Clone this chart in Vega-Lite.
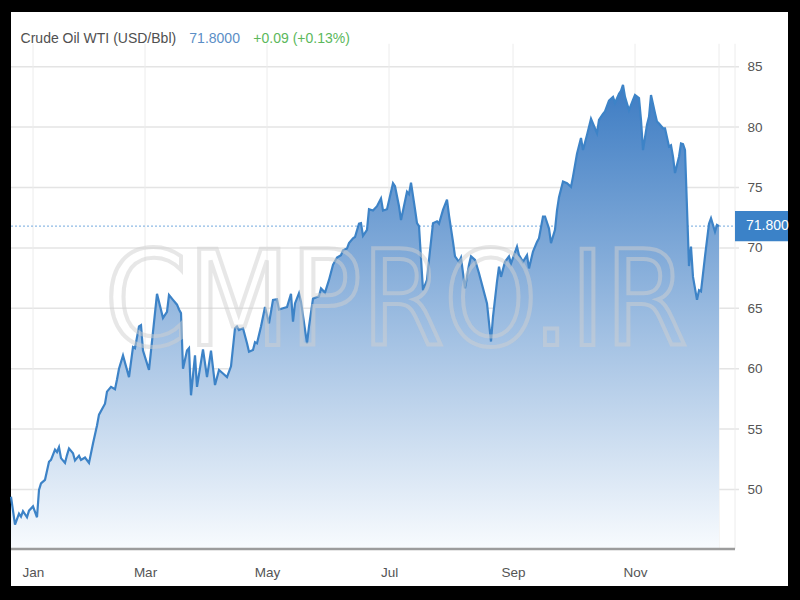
{
  "$schema": "https://vega.github.io/schema/vega-lite/v6.json",
  "width": 777,
  "height": 574,
  "autosize": {"type": "none"},
  "padding": {"left": 11, "top": 12, "right": 12, "bottom": 14},
  "background": "#000000",
  "config": {"view": {"fill": "#ffffff", "stroke": null}, "font": "Liberation Sans"},
  "datasets": {
    "prices": [
      {"date": "2020-12-24", "price": 49.4}, {"date": "2020-12-26", "price": 47.1}, {"date": "2020-12-28", "price": 48.0},
      {"date": "2020-12-29", "price": 47.75}, {"date": "2020-12-30", "price": 48.2}, {"date": "2021-01-01", "price": 47.7},
      {"date": "2021-01-02", "price": 48.25}, {"date": "2021-01-04", "price": 48.6}, {"date": "2021-01-06", "price": 47.7},
      {"date": "2021-01-07", "price": 49.96}, {"date": "2021-01-08", "price": 50.5}, {"date": "2021-01-10", "price": 50.8},
      {"date": "2021-01-12", "price": 52.3}, {"date": "2021-01-13", "price": 52.45}, {"date": "2021-01-15", "price": 53.3},
      {"date": "2021-01-16", "price": 53.1}, {"date": "2021-01-17", "price": 53.5}, {"date": "2021-01-18", "price": 52.6},
      {"date": "2021-01-20", "price": 52.2}, {"date": "2021-01-21", "price": 52.85}, {"date": "2021-01-22", "price": 53.4},
      {"date": "2021-01-24", "price": 53.0}, {"date": "2021-01-25", "price": 52.4}, {"date": "2021-01-27", "price": 52.8},
      {"date": "2021-01-28", "price": 52.45}, {"date": "2021-01-30", "price": 52.65}, {"date": "2021-02-01", "price": 52.2},
      {"date": "2021-02-03", "price": 53.8}, {"date": "2021-02-05", "price": 55.3}, {"date": "2021-02-06", "price": 56.2},
      {"date": "2021-02-09", "price": 57.1}, {"date": "2021-02-10", "price": 58.1}, {"date": "2021-02-12", "price": 58.5},
      {"date": "2021-02-14", "price": 58.3}, {"date": "2021-02-15", "price": 59.1}, {"date": "2021-02-16", "price": 60.0},
      {"date": "2021-02-18", "price": 61.1}, {"date": "2021-02-21", "price": 59.3}, {"date": "2021-02-23", "price": 61.8},
      {"date": "2021-02-24", "price": 61.7}, {"date": "2021-02-26", "price": 63.5}, {"date": "2021-02-27", "price": 63.6},
      {"date": "2021-02-28", "price": 61.5}, {"date": "2021-03-03", "price": 59.9}, {"date": "2021-03-07", "price": 66.2},
      {"date": "2021-03-10", "price": 64.2}, {"date": "2021-03-12", "price": 64.7}, {"date": "2021-03-13", "price": 66.1},
      {"date": "2021-03-15", "price": 65.7}, {"date": "2021-03-17", "price": 65.3}, {"date": "2021-03-18", "price": 64.9},
      {"date": "2021-03-19", "price": 64.6}, {"date": "2021-03-20", "price": 60.0}, {"date": "2021-03-22", "price": 61.5},
      {"date": "2021-03-23", "price": 61.7}, {"date": "2021-03-24", "price": 57.8}, {"date": "2021-03-26", "price": 61.1},
      {"date": "2021-03-27", "price": 58.5}, {"date": "2021-03-30", "price": 61.6}, {"date": "2021-04-01", "price": 59.3},
      {"date": "2021-04-03", "price": 61.5}, {"date": "2021-04-05", "price": 58.65}, {"date": "2021-04-07", "price": 59.9},
      {"date": "2021-04-09", "price": 59.6}, {"date": "2021-04-11", "price": 59.3}, {"date": "2021-04-13", "price": 60.2},
      {"date": "2021-04-15", "price": 63.35}, {"date": "2021-04-16", "price": 63.5}, {"date": "2021-04-17", "price": 63.2},
      {"date": "2021-04-19", "price": 63.35}, {"date": "2021-04-21", "price": 62.1}, {"date": "2021-04-22", "price": 61.4},
      {"date": "2021-04-24", "price": 61.55}, {"date": "2021-04-25", "price": 62.2}, {"date": "2021-04-26", "price": 62.1},
      {"date": "2021-04-28", "price": 63.5}, {"date": "2021-04-30", "price": 65.1}, {"date": "2021-05-02", "price": 63.75},
      {"date": "2021-05-04", "price": 65.7}, {"date": "2021-05-06", "price": 65.75}, {"date": "2021-05-07", "price": 64.9},
      {"date": "2021-05-09", "price": 65.0}, {"date": "2021-05-11", "price": 65.1}, {"date": "2021-05-13", "price": 66.2},
      {"date": "2021-05-14", "price": 63.9}, {"date": "2021-05-15", "price": 65.4}, {"date": "2021-05-17", "price": 66.25},
      {"date": "2021-05-18", "price": 65.55}, {"date": "2021-05-21", "price": 62.1}, {"date": "2021-05-22", "price": 63.5},
      {"date": "2021-05-24", "price": 65.8}, {"date": "2021-05-27", "price": 66.0}, {"date": "2021-05-28", "price": 66.65},
      {"date": "2021-05-30", "price": 66.3}, {"date": "2021-06-01", "price": 67.35}, {"date": "2021-06-03", "price": 68.6},
      {"date": "2021-06-05", "price": 69.2}, {"date": "2021-06-07", "price": 69.4}, {"date": "2021-06-08", "price": 69.8},
      {"date": "2021-06-10", "price": 69.95}, {"date": "2021-06-11", "price": 70.4}, {"date": "2021-06-13", "price": 70.8},
      {"date": "2021-06-14", "price": 70.9}, {"date": "2021-06-16", "price": 72.0}, {"date": "2021-06-17", "price": 72.05},
      {"date": "2021-06-18", "price": 71.0}, {"date": "2021-06-20", "price": 71.5}, {"date": "2021-06-21", "price": 73.2},
      {"date": "2021-06-23", "price": 73.1}, {"date": "2021-06-25", "price": 73.45}, {"date": "2021-06-27", "price": 74.1},
      {"date": "2021-06-28", "price": 73.1}, {"date": "2021-06-30", "price": 73.2}, {"date": "2021-07-03", "price": 75.35},
      {"date": "2021-07-04", "price": 75.1}, {"date": "2021-07-06", "price": 73.45}, {"date": "2021-07-07", "price": 72.3},
      {"date": "2021-07-10", "price": 74.65}, {"date": "2021-07-11", "price": 74.45}, {"date": "2021-07-12", "price": 75.4},
      {"date": "2021-07-14", "price": 73.2}, {"date": "2021-07-15", "price": 72.05}, {"date": "2021-07-16", "price": 71.8},
      {"date": "2021-07-18", "price": 66.5}, {"date": "2021-07-20", "price": 67.35}, {"date": "2021-07-21", "price": 69.0},
      {"date": "2021-07-23", "price": 72.05}, {"date": "2021-07-25", "price": 72.2}, {"date": "2021-07-26", "price": 72.0},
      {"date": "2021-07-28", "price": 73.15}, {"date": "2021-07-30", "price": 74.0}, {"date": "2021-07-31", "price": 72.7},
      {"date": "2021-08-02", "price": 70.5}, {"date": "2021-08-03", "price": 69.3}, {"date": "2021-08-05", "price": 68.85},
      {"date": "2021-08-06", "price": 69.2}, {"date": "2021-08-08", "price": 66.65}, {"date": "2021-08-10", "price": 68.6},
      {"date": "2021-08-11", "price": 69.3}, {"date": "2021-08-13", "price": 69.0}, {"date": "2021-08-15", "price": 67.9},
      {"date": "2021-08-17", "price": 66.65}, {"date": "2021-08-19", "price": 65.4}, {"date": "2021-08-21", "price": 62.25},
      {"date": "2021-08-22", "price": 64.3}, {"date": "2021-08-24", "price": 67.2}, {"date": "2021-08-25", "price": 68.45},
      {"date": "2021-08-26", "price": 67.6}, {"date": "2021-08-28", "price": 68.85}, {"date": "2021-08-30", "price": 69.3},
      {"date": "2021-08-31", "price": 68.7}, {"date": "2021-09-03", "price": 70.1}, {"date": "2021-09-04", "price": 69.4},
      {"date": "2021-09-06", "price": 68.85}, {"date": "2021-09-08", "price": 69.4}, {"date": "2021-09-09", "price": 68.3},
      {"date": "2021-09-11", "price": 69.7}, {"date": "2021-09-13", "price": 70.5}, {"date": "2021-09-14", "price": 70.8},
      {"date": "2021-09-16", "price": 72.6}, {"date": "2021-09-17", "price": 72.6}, {"date": "2021-09-19", "price": 71.6},
      {"date": "2021-09-20", "price": 70.4}, {"date": "2021-09-22", "price": 71.5}, {"date": "2021-09-23", "price": 73.1},
      {"date": "2021-09-24", "price": 74.2}, {"date": "2021-09-26", "price": 75.5}, {"date": "2021-09-28", "price": 75.35},
      {"date": "2021-09-30", "price": 75.05}, {"date": "2021-10-01", "price": 75.9}, {"date": "2021-10-03", "price": 77.8},
      {"date": "2021-10-05", "price": 79.1}, {"date": "2021-10-06", "price": 78.1}, {"date": "2021-10-08", "price": 79.35},
      {"date": "2021-10-10", "price": 80.7}, {"date": "2021-10-13", "price": 79.5}, {"date": "2021-10-14", "price": 80.6},
      {"date": "2021-10-16", "price": 81.1}, {"date": "2021-10-17", "price": 81.3}, {"date": "2021-10-19", "price": 82.2},
      {"date": "2021-10-21", "price": 82.5}, {"date": "2021-10-22", "price": 82.0}, {"date": "2021-10-24", "price": 82.75},
      {"date": "2021-10-25", "price": 83.0}, {"date": "2021-10-26", "price": 83.5}, {"date": "2021-10-27", "price": 82.5},
      {"date": "2021-10-29", "price": 81.4}, {"date": "2021-10-31", "price": 82.25}, {"date": "2021-11-01", "price": 82.65},
      {"date": "2021-11-03", "price": 82.4}, {"date": "2021-11-04", "price": 80.6}, {"date": "2021-11-05", "price": 78.1},
      {"date": "2021-11-07", "price": 80.2}, {"date": "2021-11-08", "price": 80.85}, {"date": "2021-11-09", "price": 82.65},
      {"date": "2021-11-11", "price": 81.15}, {"date": "2021-11-12", "price": 80.45}, {"date": "2021-11-13", "price": 80.3},
      {"date": "2021-11-15", "price": 79.9}, {"date": "2021-11-16", "price": 79.9}, {"date": "2021-11-18", "price": 78.4},
      {"date": "2021-11-19", "price": 78.5}, {"date": "2021-11-20", "price": 77.55}, {"date": "2021-11-21", "price": 76.2},
      {"date": "2021-11-23", "price": 77.55}, {"date": "2021-11-24", "price": 78.65}, {"date": "2021-11-25", "price": 78.6},
      {"date": "2021-11-26", "price": 78.1}, {"date": "2021-11-28", "price": 68.5}, {"date": "2021-11-29", "price": 70.1},
      {"date": "2021-11-30", "price": 67.6}, {"date": "2021-12-02", "price": 65.7}, {"date": "2021-12-03", "price": 66.5},
      {"date": "2021-12-04", "price": 66.4}, {"date": "2021-12-06", "price": 69.3}, {"date": "2021-12-08", "price": 72.0},
      {"date": "2021-12-09", "price": 72.45}, {"date": "2021-12-11", "price": 71.35}, {"date": "2021-12-12", "price": 71.9},
      {"date": "2021-12-13", "price": 71.8}
    ],
    "hgrid": [{"level": 50}, {"level": 55}, {"level": 60}, {"level": 65}, {"level": 70}, {"level": 75}, {"level": 80}, {"level": 85}],
    "vgrid": [{"date": "2021-01-04"}, {"date": "2021-03-01"}, {"date": "2021-05-01"}, {"date": "2021-07-01"}, {"date": "2021-09-01"}, {"date": "2021-11-01"}, {"date": "2021-12-13"}, {"date": "2021-12-21"}]
  },
  "layer": [
    {
      "data": {"name": "hgrid"},
      "mark": {"type": "rule", "color": "#e4e4e4", "strokeWidth": 1.5},
      "encoding": {
        "y": {"field": "level", "type": "quantitative", "title": null,
          "scale": {"domain": [42.01, 89.53], "zero": false, "nice": false},
          "axis": {"orient": "right", "offset": -41, "domain": false, "ticks": false, "grid": false, "labelPadding": 0,
            "values": [50, 55, 60, 65, 70, 75, 80, 85], "labelFontSize": 13.5, "labelColor": "#555555", "labelFont": "Liberation Sans", "labelBaseline": "middle"}},
        "x": {"datum": {"year": 2020, "month": 12, "date": 24, "utc": true}, "type": "temporal",
          "scale": {"type": "utc", "domain": [1608768000000, 1642334400000]}},
        "x2": {"datum": {"year": 2021, "month": 12, "date": 23, "utc": true}}
      }
    },
    {
      "data": {"name": "vgrid"},
      "mark": {"type": "rule", "color": "#ececec", "strokeWidth": 1},
      "encoding": {
        "x": {"field": "date", "type": "temporal", "title": null,
          "scale": {"type": "utc", "domain": [1608768000000, 1642334400000]},
          "axis": {"orient": "bottom", "offset": -37, "domain": false, "ticks": false, "grid": false, "labelPadding": 16,
            "values": [
              {"year": 2021, "month": 1, "date": 4, "utc": true}, {"year": 2021, "month": 3, "date": 1, "utc": true},
              {"year": 2021, "month": 5, "date": 1, "utc": true}, {"year": 2021, "month": 7, "date": 1, "utc": true},
              {"year": 2021, "month": 9, "date": 1, "utc": true}, {"year": 2021, "month": 11, "date": 1, "utc": true}],
            "format": "%b", "labelFontSize": 13.5, "labelColor": "#555555", "labelFont": "Liberation Sans", "labelFlush": false}},
        "y": {"datum": 45.07, "type": "quantitative", "scale": {"domain": [42.01, 89.53], "zero": false, "nice": false}},
        "y2": {"datum": 86.9}
      }
    },
    {
      "data": {"values": [{}]},
      "mark": {"type": "rule", "color": "#8fbbe5", "strokeWidth": 1.2, "strokeDash": [2, 2]},
      "encoding": {
        "x": {"datum": {"year": 2020, "month": 12, "date": 24, "utc": true}, "type": "temporal"},
        "x2": {"datum": {"year": 2021, "month": 12, "date": 21, "utc": true}},
        "y": {"datum": 71.8, "type": "quantitative"}
      }
    },
    {
      "data": {"name": "prices"},
      "mark": {"type": "area", "color": {"gradient": "linear", "x1": 0, "y1": 1, "x2": 0, "y2": 0,
        "stops": [{"offset": 0, "color": "#f8fbfe"}, {"offset": 1, "color": "#3d7cc3"}]}},
      "encoding": {
        "x": {"field": "date", "type": "temporal", "title": null},
        "y": {"field": "price", "type": "quantitative", "title": null},
        "y2": {"datum": 45.07}
      }
    },
    {
      "data": {"name": "prices"},
      "mark": {"type": "line", "color": "#3d83c7", "strokeWidth": 2.2},
      "encoding": {
        "x": {"field": "date", "type": "temporal", "title": null},
        "y": {"field": "price", "type": "quantitative", "title": null}
      }
    },
    {
      "data": {"values": [{}]},
      "mark": {"type": "rule", "color": "#9c9c9c", "strokeWidth": 2.5},
      "encoding": {
        "x": {"datum": {"year": 2020, "month": 12, "date": 24, "utc": true}, "type": "temporal"},
        "x2": {"datum": {"year": 2021, "month": 12, "date": 21, "utc": true}},
        "y": {"datum": 45.07, "type": "quantitative"}
      }
    },
    {
      "data": {"values": [{}]},
      "mark": {"type": "text", "text": "CMPRO.IR", "font": "DejaVu Sans Condensed, Liberation Sans", "fontSize": 132,
        "align": "center", "baseline": "alphabetic", "fillOpacity": 0, "stroke": "#cfcfcf", "strokeWidth": 4, "strokeOpacity": 0.5},
      "encoding": {
        "x": {"datum": {"year": 2021, "month": 7, "date": 4, "hours": 12, "utc": true}, "type": "temporal"},
        "y": {"datum": 61.96, "type": "quantitative"}
      }
    },
    {
      "data": {"values": [{}]},
      "mark": {"type": "rect", "color": "#3b82c8"},
      "encoding": {
        "x": {"datum": {"year": 2021, "month": 12, "date": 21, "utc": true}, "type": "temporal"},
        "x2": {"datum": {"year": 2022, "month": 1, "date": 16, "hours": 12, "utc": true}},
        "y": {"datum": 70.56, "type": "quantitative"},
        "y2": {"datum": 73.05}
      }
    },
    {
      "data": {"values": [{}]},
      "mark": {"type": "text", "text": "71.800", "font": "Liberation Sans", "fontSize": 14, "color": "#ffffff", "align": "left", "baseline": "middle"},
      "encoding": {
        "x": {"datum": {"year": 2021, "month": 12, "date": 26, "hours": 12, "utc": true}, "type": "temporal"},
        "y": {"datum": 71.8, "type": "quantitative"}
      }
    },
    {
      "data": {"values": [{}]},
      "mark": {"type": "text", "text": "Crude Oil WTI (USD/Bbl)", "font": "Liberation Sans", "fontSize": 14, "color": "#505050", "align": "left", "baseline": "alphabetic"},
      "encoding": {
        "x": {"datum": {"year": 2020, "month": 12, "date": 28, "hours": 19, "utc": true}, "type": "temporal"},
        "y": {"datum": 87.0, "type": "quantitative"}
      }
    },
    {
      "data": {"values": [{}]},
      "mark": {"type": "text", "text": "71.8000", "font": "Liberation Sans", "fontSize": 14, "color": "#5b8ec6", "align": "left", "baseline": "alphabetic"},
      "encoding": {
        "x": {"datum": {"year": 2021, "month": 3, "date": 23, "hours": 4, "utc": true}, "type": "temporal"},
        "y": {"datum": 87.0, "type": "quantitative"}
      }
    },
    {
      "data": {"values": [{}]},
      "mark": {"type": "text", "text": "+0.09 (+0.13%)", "font": "Liberation Sans", "fontSize": 14, "color": "#5cb85c", "align": "left", "baseline": "alphabetic"},
      "encoding": {
        "x": {"datum": {"year": 2021, "month": 4, "date": 24, "hours": 4, "utc": true}, "type": "temporal"},
        "y": {"datum": 87.0, "type": "quantitative"}
      }
    }
  ]
}
